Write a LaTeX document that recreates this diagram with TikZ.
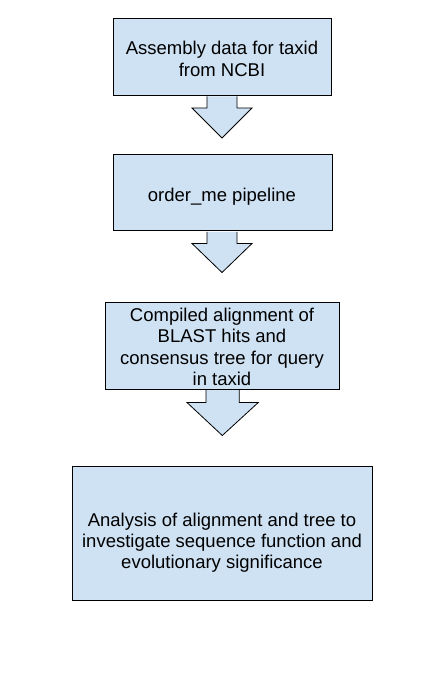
\documentclass[tikz,border=0pt]{standalone}
\usepackage{fontspec}
\setmainfont{Liberation Sans}
\usetikzlibrary{calc}
\definecolor{boxblue}{HTML}{CFE2F3}
\begin{document}
\begin{tikzpicture}[x=1pt,y=-1pt,
  box/.style={draw=black, line width=1pt, fill=boxblue, inner sep=0pt, rectangle},
  blockarrow/.style={draw=black, line width=0.8pt, fill=boxblue, line join=miter},
  ln/.style={anchor=base, inner sep=0pt, font=\fontsize{18.5}{21.5}\selectfont}]
\useasboundingbox[fill=white] (0,0) rectangle (441,684);
% boxes
\node[box, minimum width=218pt, minimum height=76.5pt] (b1) at (222,57.25) {};
\node[box, minimum width=219pt, minimum height=76pt] (b2) at (222.5,193) {};
\node[box, minimum width=234pt, minimum height=87pt] (b3) at (222,345.5) {};
\node[box, minimum width=300pt, minimum height=134pt] (b4) at (222,533) {};
% block arrows
\draw[blockarrow] ($(b1.south)+(-15,0.5)$) -- ++(0,11.5) -- ++(-15,0) -- ($(b1.south)+(0,42)$)
  -- ($(b1.south)+(30,12)$) -- ++(-15,0) -- ++(0,-11.5);
\draw[blockarrow] ($(b2.south)+(-15.5,0.5)$) -- ++(0,11.5) -- ++(-15,0) -- ($(b2.south)+(-0.5,41)$)
  -- ($(b2.south)+(29.5,12)$) -- ++(-15,0) -- ++(0,-11.5);
\draw[blockarrow] ($(b3.south)+(-16,0.5)$) -- ++(0,12.5) -- ++(-19,0) -- ($(b3.south)+(0.3,46)$)
  -- ($(b3.south)+(36.3,13)$) -- ++(-19,0) -- ++(0,-12.5);
% texts
\node[ln] (t1a) at (222,55) {Assembly data for taxid};
\node[ln] (t1b) at (222,76.3) {from NCBI};
\node[ln] (t2) at (222,201.5) {order\_me pipeline};
\node[ln] (t3a) at (222,321) {Compiled alignment of};
\node[ln] (t3b) at (222,342.5) {BLAST hits and};
\node[ln] (t3c) at (222,364) {consensus tree for query};
\node[ln] (t3d) at (222,385.5) {in taxid};
\node[ln] (t4a) at (222,526) {Analysis of alignment and tree to};
\node[ln] (t4b) at (222,547.3) {investigate sequence function and};
\node[ln] (t4c) at (222,568.6) {evolutionary significance};
\end{tikzpicture}
\end{document}
